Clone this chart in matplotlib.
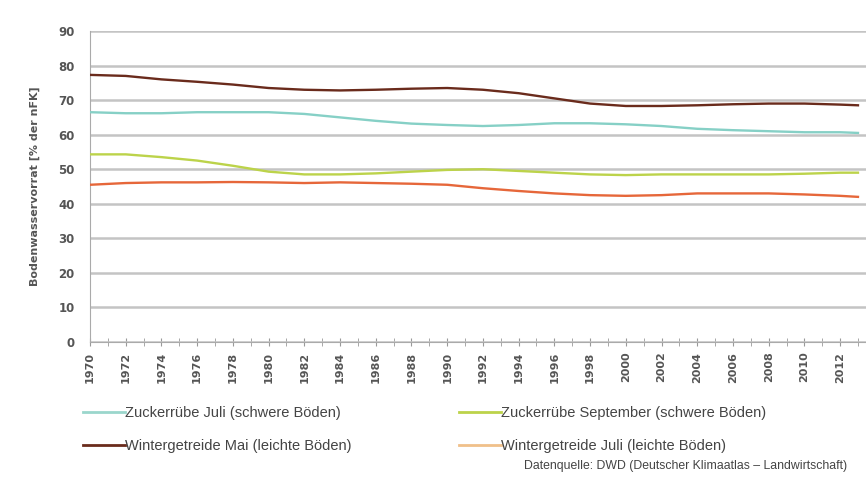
import matplotlib
matplotlib.use("Agg")
import matplotlib.pyplot as plt
from matplotlib.lines import Line2D
import numpy as np

years = [1970, 1972, 1974, 1976, 1978, 1980, 1982, 1984, 1986, 1988, 1990,
         1992, 1994, 1996, 1998, 2000, 2002, 2004, 2006, 2008, 2010, 2012, 2013]
zr_juli = [66.5, 66.2, 66.2, 66.5, 66.5, 66.5, 66.0, 65.0, 64.0, 63.2, 62.8,
           62.5, 62.8, 63.3, 63.3, 63.0, 62.5, 61.7, 61.3, 61.0, 60.7, 60.7, 60.5]
zr_sept = [54.3, 54.3, 53.5, 52.5, 51.0, 49.3, 48.5, 48.5, 48.8, 49.3, 49.8,
           50.0, 49.5, 49.0, 48.5, 48.3, 48.5, 48.5, 48.5, 48.5, 48.7, 49.0, 49.0]
wg_mai = [77.3, 77.0, 76.0, 75.3, 74.5, 73.5, 73.0, 72.8, 73.0, 73.3, 73.5,
          73.0, 72.0, 70.5, 69.0, 68.3, 68.3, 68.5, 68.8, 69.0, 69.0, 68.7, 68.5]
wg_juli = [45.5, 46.0, 46.2, 46.2, 46.3, 46.2, 46.0, 46.2, 46.0, 45.8, 45.5,
           44.5, 43.7, 43.0, 42.5, 42.3, 42.5, 43.0, 43.0, 43.0, 42.7, 42.3, 42.0]

labels = ["Zuckerrübe Juli (schwere Böden)", "Zuckerrübe September (schwere Böden)",
          "Wintergetreide Mai (leichte Böden)", "Wintergetreide Juli (leichte Böden)"]
colors = ["#86d0c6", "#bcd34a", "#6a2b1c", "#e6673a"]
legend_colors = ["#9ad6cc", "#bcd34a", "#6a2b1c", "#f0c08a"]

plt.rcParams['font.family'] = ['DejaVu Sans']
narrow = ['Liberation Sans', 'DejaVu Sans']

fig = plt.figure(figsize=(8.66, 4.79), dpi=100)
ax = fig.add_axes([90/866, 1-342/479, 776/866, (342-31)/479])

series = [zr_juli, zr_sept, wg_mai, wg_juli]
for s, c in zip(series, colors):
    ax.plot(years, s, color=c, lw=1.7, zorder=3)

ax.set_xlim(1970, 2013.45)
ax.set_ylim(0, 90)
ax.set_yticks(np.arange(0, 91, 10))
ax.set_xticks(np.arange(1970, 2013, 2))
ax.set_xticks(np.arange(1970, 2014, 1), minor=True)
ax.tick_params(axis='x', which='both', direction='inout', length=6, color='#999999',
               labelrotation=90, labelsize=8, labelcolor='#555555', pad=4)
ax.tick_params(axis='y', length=0, labelsize=8.5, labelcolor='#555555', pad=11)
ax.grid(axis='y', color='#c4c4c4', lw=1.8, zorder=1)
for sp in ['top', 'right']:
    ax.spines[sp].set_visible(False)
ax.spines['left'].set_color('#aaaaaa')
ax.spines['bottom'].set_color('#aaaaaa')
for lbl in ax.get_xticklabels() + ax.get_yticklabels():
    lbl.set_fontweight('bold')

ax.set_ylabel("Bodenwasservorrat [% der nFK]", fontsize=8, color='#555555',
              fontweight='bold', labelpad=13)

handles = [Line2D([0], [0], color=c, lw=2) for c in legend_colors]
order = [0, 2, 1, 3]
leg = fig.legend([handles[i] for i in order], [labels[i] for i in order],
                 loc='upper left', bbox_to_anchor=(70/866, 1-393/479), ncol=2,
                 frameon=False, handlelength=2.9, handletextpad=0.0,
                 columnspacing=7.35, labelspacing=1.3,
                 prop={'family': narrow, 'size': 10.5})
for t in leg.get_texts():
    t.set_color('#444444')

fig.text(847/866, 1-466/479, "Datenquelle: DWD (Deutscher Klimaatlas \u2013 Landwirtschaft)",
         ha='right', va='center', fontsize=8.85, family=narrow, color='#444444')

fig.savefig("out.png", dpi=100, facecolor='white')
